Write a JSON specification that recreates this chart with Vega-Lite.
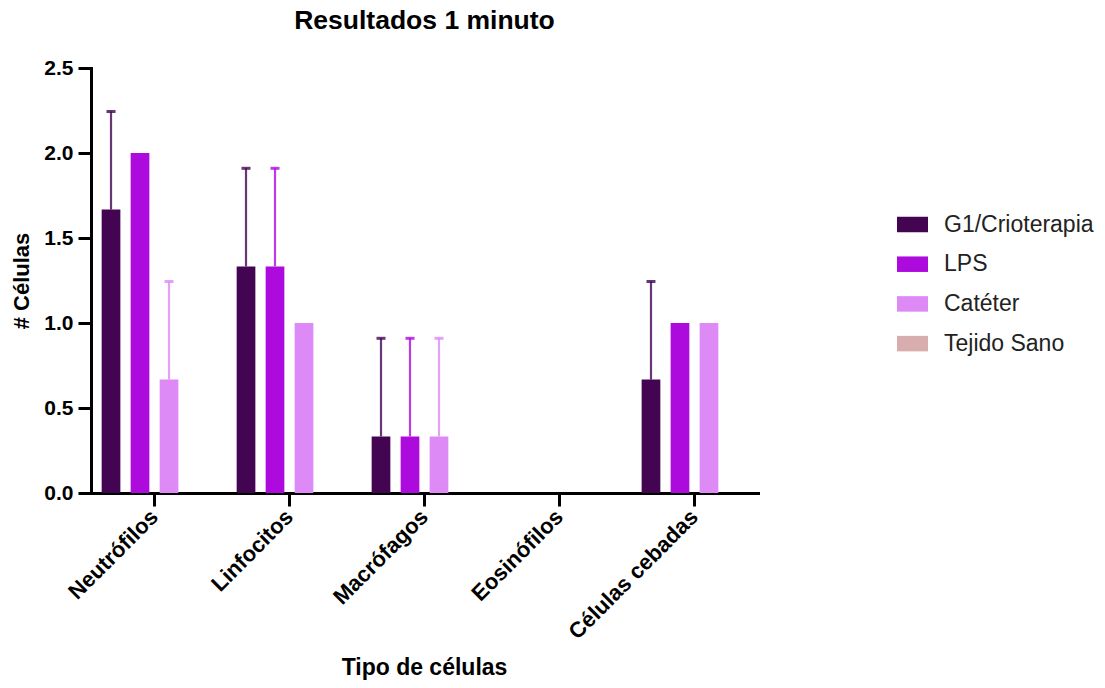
{
  "$schema": "https://vega.github.io/schema/vega-lite/v6.json",
  "autosize": "none",
  "padding": {"left": 91, "top": 68, "right": 347, "bottom": 195},
  "width": 667,
  "height": 425,
  "background": "white",
  "title": {
    "text": "Resultados 1 minuto",
    "font": "Liberation Sans",
    "fontSize": 26.5,
    "fontWeight": "bold",
    "color": "#000000",
    "anchor": "middle",
    "offset": 23
  },
  "data": {
    "values": [
      {"tipo": "Neutrófilos", "grupo": "G1/Crioterapia", "celulas": 1.667, "limite": 2.244},
      {"tipo": "Neutrófilos", "grupo": "LPS", "celulas": 2.0, "limite": null},
      {"tipo": "Neutrófilos", "grupo": "Catéter", "celulas": 0.667, "limite": 1.244},
      {"tipo": "Neutrófilos", "grupo": "Tejido Sano", "celulas": 0, "limite": null},
      {"tipo": "Linfocitos", "grupo": "G1/Crioterapia", "celulas": 1.333, "limite": 1.91},
      {"tipo": "Linfocitos", "grupo": "LPS", "celulas": 1.333, "limite": 1.91},
      {"tipo": "Linfocitos", "grupo": "Catéter", "celulas": 1.0, "limite": null},
      {"tipo": "Linfocitos", "grupo": "Tejido Sano", "celulas": 0, "limite": null},
      {"tipo": "Macrófagos", "grupo": "G1/Crioterapia", "celulas": 0.333, "limite": 0.91},
      {"tipo": "Macrófagos", "grupo": "LPS", "celulas": 0.333, "limite": 0.91},
      {"tipo": "Macrófagos", "grupo": "Catéter", "celulas": 0.333, "limite": 0.91},
      {"tipo": "Macrófagos", "grupo": "Tejido Sano", "celulas": 0, "limite": null},
      {"tipo": "Eosinófilos", "grupo": "G1/Crioterapia", "celulas": 0, "limite": null},
      {"tipo": "Eosinófilos", "grupo": "LPS", "celulas": 0, "limite": null},
      {"tipo": "Eosinófilos", "grupo": "Catéter", "celulas": 0, "limite": null},
      {"tipo": "Eosinófilos", "grupo": "Tejido Sano", "celulas": 0, "limite": null},
      {"tipo": "Células cebadas", "grupo": "G1/Crioterapia", "celulas": 0.667, "limite": 1.244},
      {"tipo": "Células cebadas", "grupo": "LPS", "celulas": 1.0, "limite": null},
      {"tipo": "Células cebadas", "grupo": "Catéter", "celulas": 1.0, "limite": null},
      {"tipo": "Células cebadas", "grupo": "Tejido Sano", "celulas": 0, "limite": null}
    ]
  },
  "encoding": {
    "x": {
      "field": "tipo",
      "type": "nominal",
      "sort": ["Neutrófilos", "Linfocitos", "Macrófagos", "Eosinófilos", "Células cebadas"],
      "scale": {"paddingInner": 0.217, "paddingOuter": 0.079, "align": 0.5},
      "axis": {
        "title": "Tipo de células",
        "titleFont": "Liberation Sans",
        "titleFontSize": 23,
        "titleFontWeight": "bold",
        "titleColor": "#000000",
        "titleX": 333,
        "titleY": 181,
        "titleAnchor": "middle",
        "titleBaseline": "alphabetic",
        "labelFont": "Liberation Sans",
        "labelFontSize": 22,
        "labelFontWeight": "bold",
        "labelColor": "#000000",
        "labelAngle": -45,
        "labelAlign": "right",
        "labelBaseline": "middle",
        "labelPadding": 7,
        "labelOverlap": false,
        "domainColor": "#000000",
        "domainWidth": 3,
        "tickColor": "#000000",
        "tickWidth": 3,
        "tickSize": 13
      }
    },
    "xOffset": {
      "field": "grupo",
      "type": "nominal",
      "sort": ["G1/Crioterapia", "LPS", "Catéter", "Tejido Sano"],
      "scale": {"paddingInner": 0.355, "paddingOuter": 0}
    },
    "color": {
      "field": "grupo",
      "type": "nominal",
      "sort": ["G1/Crioterapia", "LPS", "Catéter", "Tejido Sano"],
      "scale": {
        "domain": ["G1/Crioterapia", "LPS", "Catéter", "Tejido Sano"],
        "range": ["#430452", "#ad0ade", "#dd8af6", "#d8adad"]
      },
      "legend": {
        "title": null,
        "orient": "none",
        "legendX": 806,
        "legendY": 141,
        "padding": 0,
        "symbolType": "M-1,-0.5H1V0.5H-1Z",
        "symbolSize": 961,
        "symbolStrokeWidth": 0,
        "symbolOpacity": 1,
        "labelFont": "Liberation Sans",
        "labelFontSize": 23,
        "labelColor": "#222222",
        "labelOffset": 16,
        "rowPadding": 11.7
      }
    }
  },
  "layer": [
    {
      "transform": [{"filter": "datum.limite != null"}],
      "mark": {"type": "rule", "strokeWidth": 2.2, "opacity": 0.8},
      "encoding": {
        "y": {"field": "celulas", "type": "quantitative"},
        "y2": {"field": "limite"}
      }
    },
    {
      "transform": [{"filter": "datum.limite != null"}],
      "mark": {"type": "tick", "orient": "horizontal", "size": 9, "thickness": 3, "opacity": 0.8},
      "encoding": {
        "y": {"field": "limite", "type": "quantitative"}
      }
    },
    {
      "mark": {"type": "bar", "opacity": 1},
      "encoding": {
        "y": {
          "field": "celulas",
          "type": "quantitative",
          "scale": {"domain": [0, 2.5], "nice": false, "zero": true},
          "axis": {
            "title": "# Células",
            "titleFont": "Liberation Sans",
            "titleFontSize": 22,
            "titleFontWeight": "bold",
            "titleColor": "#000000",
            "titleX": -70,
            "titleY": 212.5,
            "titleAngle": -90,
            "titleAnchor": "middle",
            "titleBaseline": "middle",
            "values": [0, 0.5, 1, 1.5, 2, 2.5],
            "format": ".1f",
            "grid": false,
            "labelFont": "Liberation Sans",
            "labelFontSize": 21,
            "labelFontWeight": "bold",
            "labelColor": "#000000",
            "labelPadding": 5,
            "domainColor": "#000000",
            "domainWidth": 3,
            "tickColor": "#000000",
            "tickWidth": 3,
            "tickSize": 13
          }
        }
      }
    }
  ],
  "config": {
    "view": {"stroke": null},
    "axis": {"domainCap": "square"}
  }
}
